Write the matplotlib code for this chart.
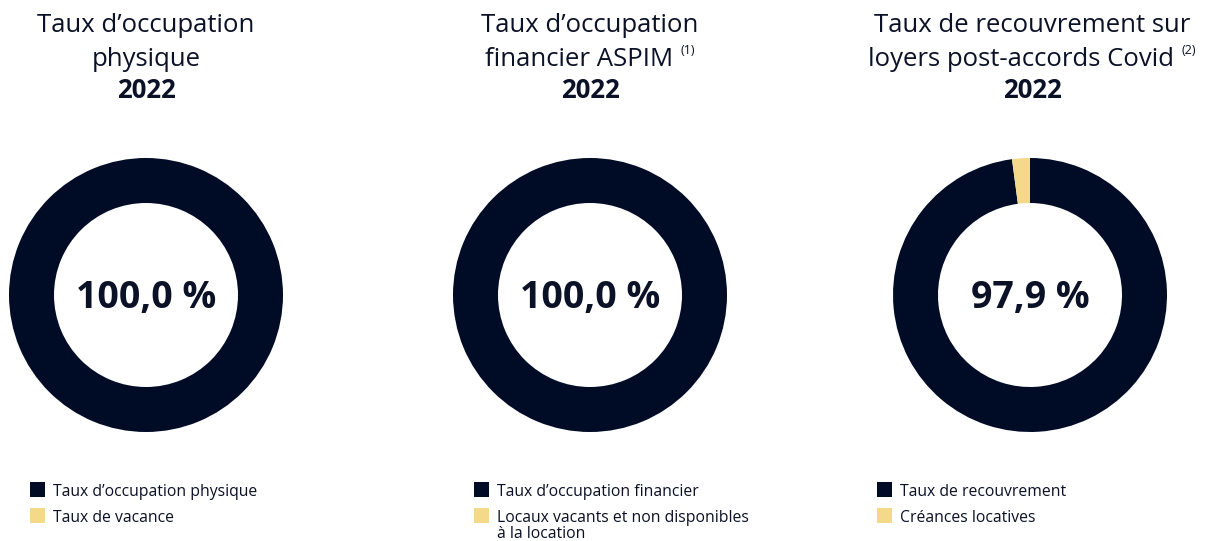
import matplotlib
matplotlib.use('Agg')
import matplotlib.pyplot as plt
from matplotlib.patches import Rectangle

# Data
titles = [
    ["Taux d\u2019occupation", "physique"],
    ["Taux d\u2019occupation", "financier ASPIM"],
    ["Taux de recouvrement sur", "loyers post-accords Covid"],
]
notes = [None, "(1)", "(2)"]
year = "2022"
values = [
    [100.0, 0.0],
    [100.0, 0.0],
    [97.9, 2.1],
]
center_labels = ["100,0 %", "100,0 %", "97,9 %"]
legend_labels = [
    ["Taux d\u2019occupation physique", "Taux de vacance"],
    ["Taux d\u2019occupation financier", "Locaux vacants et non disponibles\n\u00e0 la location"],
    ["Taux de recouvrement", "Cr\u00e9ances locatives"],
]

NAVY = '#000b26'
YELLOW = '#f5d98b'
TEXT = '#0b1126'
FONT = 'Open Sans'

W, H = 1211, 541
fig = plt.figure(figsize=(W / 100, H / 100), dpi=100)


def fx(x):
    return x / W


def fy(y):
    return 1 - y / H


centers_x = [146, 590, 1030]
title_x = [146, 590, 1032]
legend_x = [30, 474, 877]
cy = 295
R = 137
r_in = 92

for i in range(3):
    ax = fig.add_axes([fx(centers_x[i] - R), fy(cy + R), 2 * R / W, 2 * R / H])
    ax.pie(values[i], colors=[NAVY, YELLOW], startangle=90, counterclock=False,
           radius=1.0, wedgeprops=dict(width=(R - r_in) / R, linewidth=0))
    ax.set_xlim(-1, 1)
    ax.set_ylim(-1, 1)
    ax.set_aspect('equal')
    ax.axis('off')
    ax.text(0, -0.025, center_labels[i], ha='center', va='center', fontsize=27,
            fontweight='bold', color=TEXT, family=FONT)

    # titles
    t = fig.text(fx(title_x[i]), fy(26), titles[i][0], ha='center', va='center',
                 fontsize=18.5, color=TEXT, family=FONT)
    t2 = fig.text(fx(title_x[i]), fy(59), titles[i][1], ha='center', va='center',
                  fontsize=18.5, color=TEXT, family=FONT)
    if notes[i] is not None:
        s = fig.text(0, fy(51), notes[i], ha='left', va='center',
                     fontsize=9, color=TEXT, family=FONT)
        fig.canvas.draw()
        r = fig.canvas.get_renderer()
        tw = t2.get_window_extent(r).width
        sw = s.get_window_extent(r).width
        gap = 7
        total = tw + gap + sw
        left = title_x[i] - total / 2
        t2.set_x(fx(left + tw / 2))
        s.set_x(fx(left + tw + gap))
    fig.text(fx(title_x[i]), fy(90), year, ha='center', va='center',
             fontsize=18.5, fontweight='bold', color=TEXT, family=FONT)

    # legend
    rows_y = [489.5, 515.5]
    for j, (lab, col) in enumerate(zip(legend_labels[i], [NAVY, YELLOW])):
        sq = Rectangle((fx(legend_x[i]), fy(rows_y[j] + 7.5)), 15 / W, 15 / H,
                       transform=fig.transFigure, facecolor=col, edgecolor='none')
        fig.add_artist(sq)
        fig.text(fx(legend_x[i] + 23), fy(rows_y[j] - 5.5), lab, ha='left', va='top',
                 fontsize=11.3, color=TEXT, family=FONT, linespacing=1.0)

fig.savefig('out.png', dpi=100)
